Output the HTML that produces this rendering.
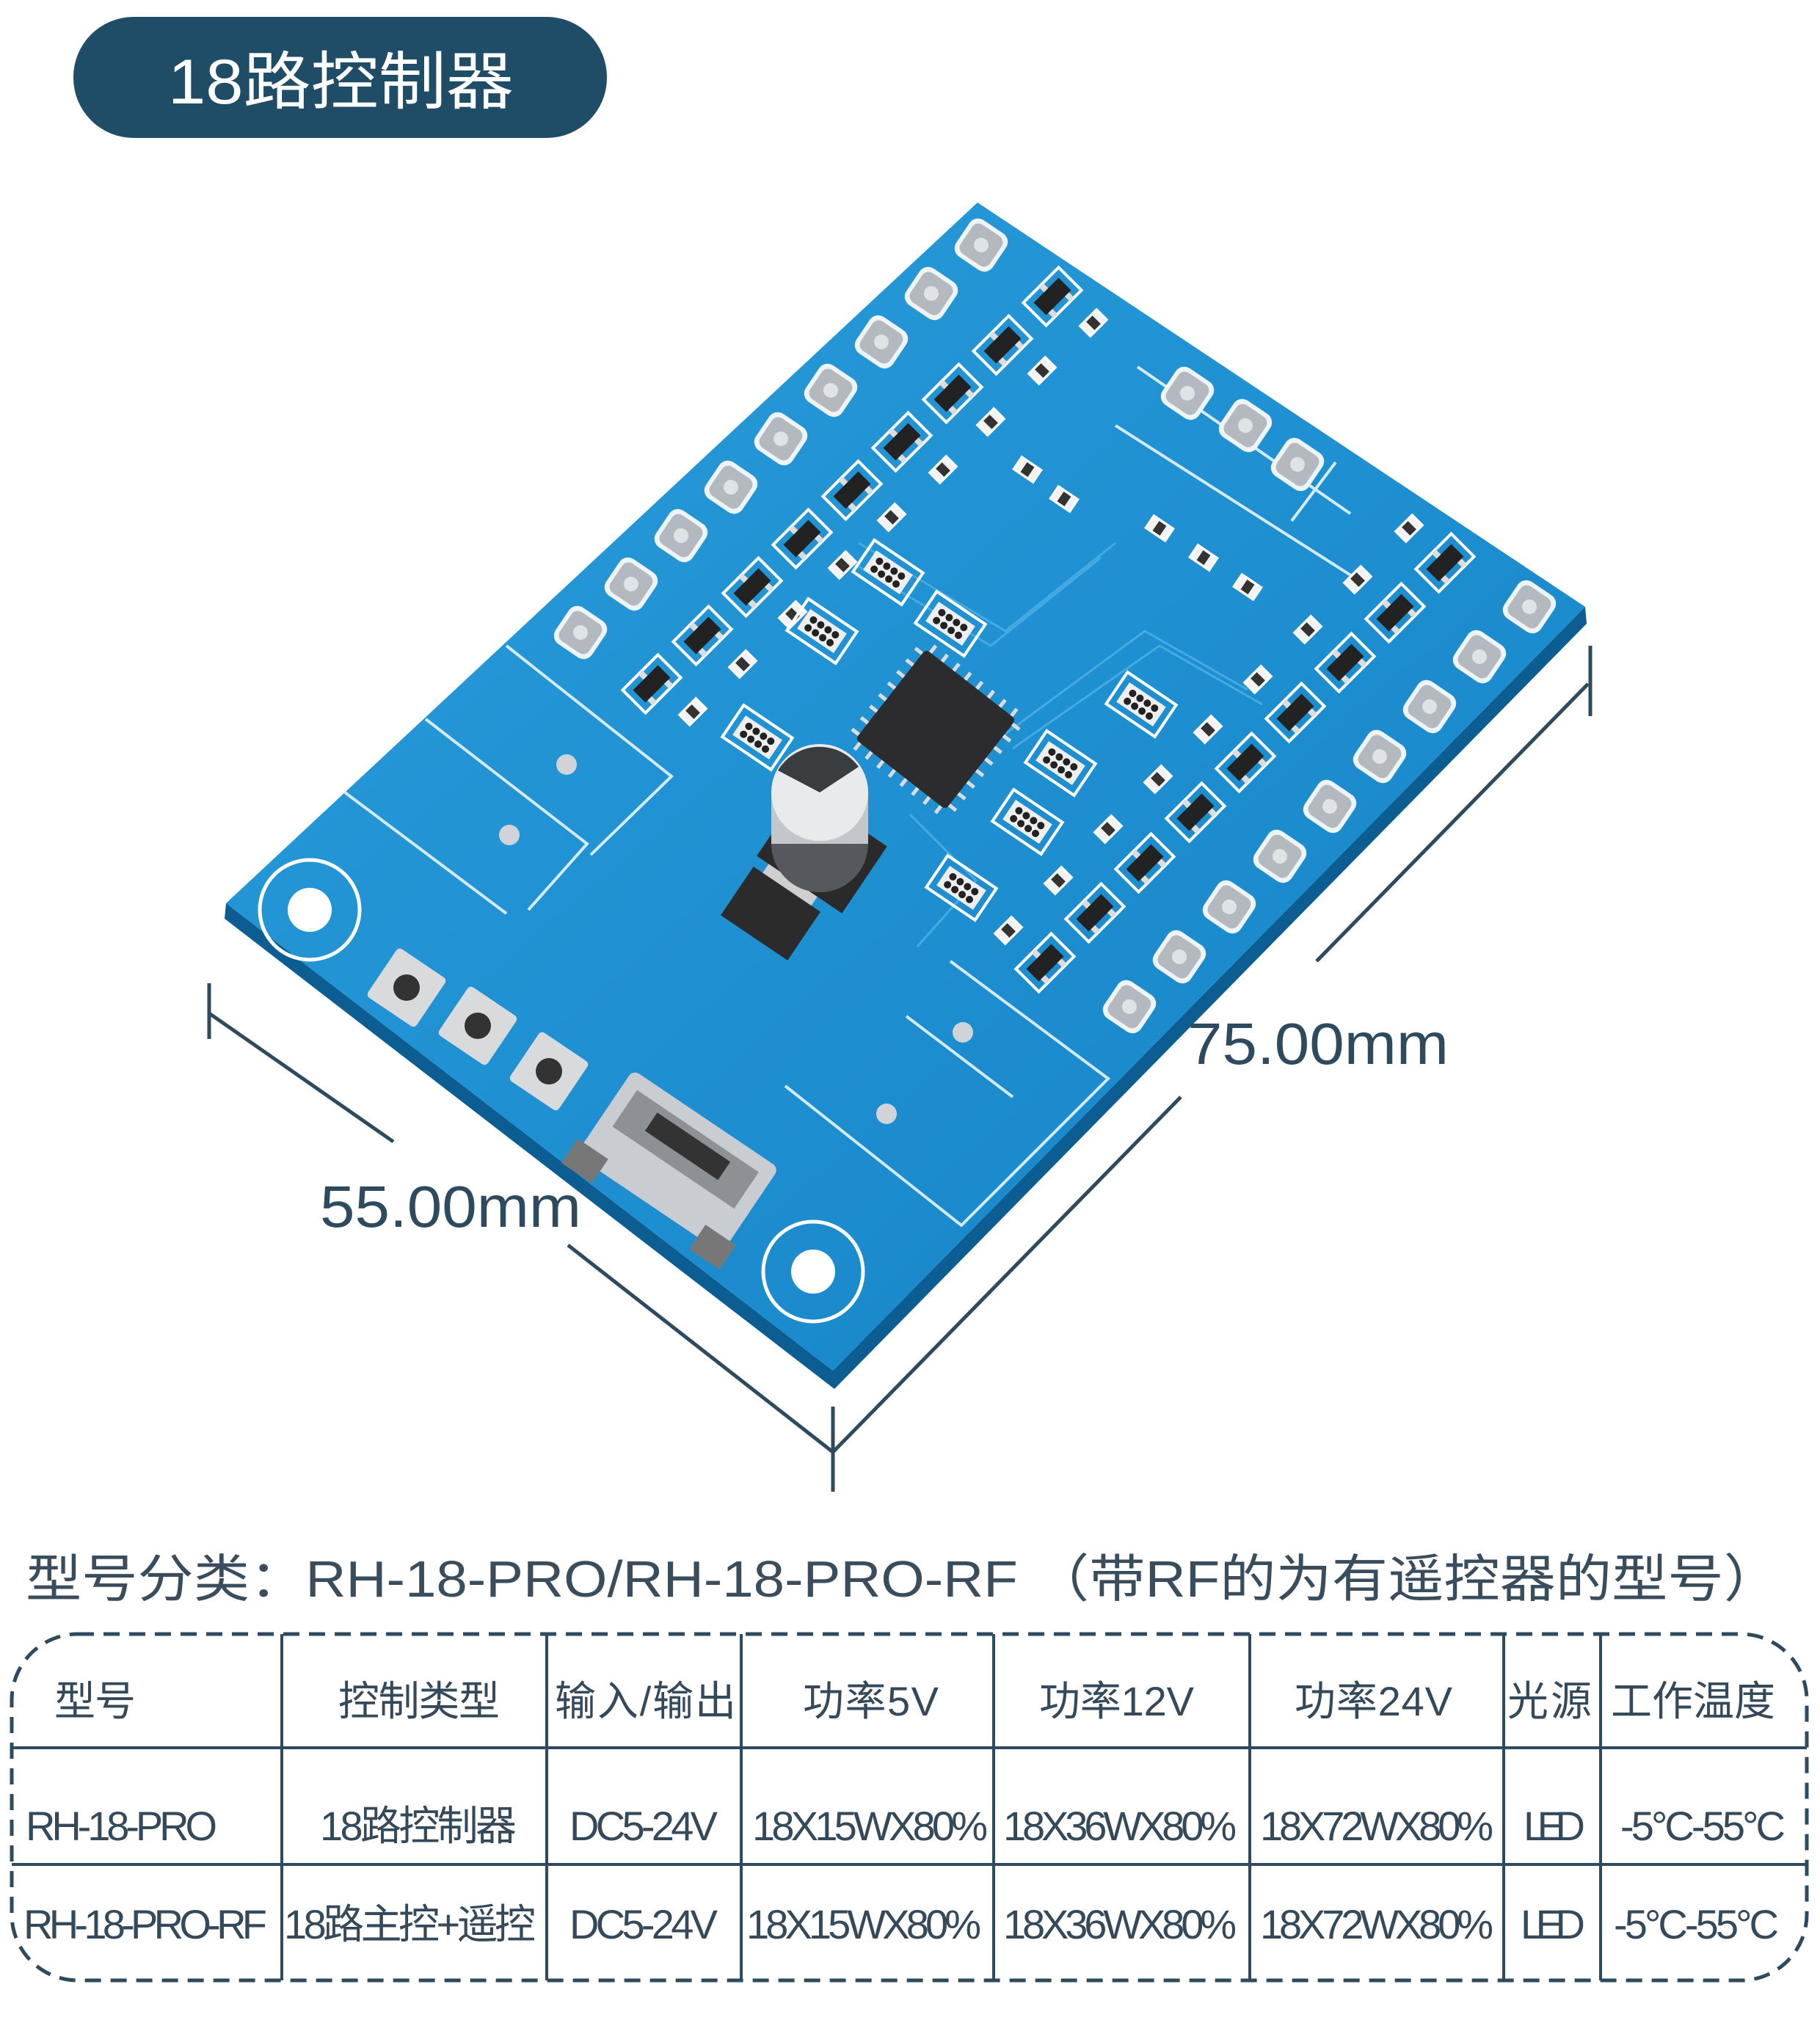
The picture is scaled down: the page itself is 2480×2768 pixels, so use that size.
<!DOCTYPE html>
<html><head><meta charset="utf-8"><style>
html,body{margin:0;padding:0;background:#fff;}
svg{display:block;}
</style></head><body>
<svg width="2480" height="2768" viewBox="0 0 2480 2768" xmlns="http://www.w3.org/2000/svg">
<defs>
<linearGradient id="bd" x1="0" y1="0" x2="1" y2="1">
<stop offset="0" stop-color="#2a9ddc"/><stop offset="1" stop-color="#1483c6"/>
</linearGradient>
<g id="pad"><rect x="-30" y="-30" width="60" height="60" rx="14" fill="#eef3f6"/><rect x="-24" y="-24" width="48" height="48" rx="10" fill="#b3b9bf"/><circle r="10" fill="#dfe3e6"/></g>
<g id="tr"><rect x="-34" y="-22" width="68" height="44" fill="none" stroke="#fff" stroke-width="4"/><rect x="-24" y="-12" width="48" height="24" fill="#222"/><rect x="-20" y="12" width="8" height="10" fill="#ddd"/><rect x="12" y="12" width="8" height="10" fill="#ddd"/><rect x="-4" y="-22" width="8" height="10" fill="#ddd"/></g>
<g id="res"><rect x="-16" y="-10" width="32" height="20" fill="#f2f2f2" stroke="#fff" stroke-width="3"/><rect x="-6" y="-8" width="12" height="16" fill="#333"/></g>
<g id="arr"><rect x="-40" y="-26" width="80" height="52" fill="none" stroke="#fff" stroke-width="4"/><rect x="-30" y="-16" width="60" height="32" fill="#eee"/><circle cx="-18" cy="-6" r="5" fill="#222"/><circle cx="-6" cy="-6" r="5" fill="#222"/><circle cx="6" cy="-6" r="5" fill="#222"/><circle cx="18" cy="-6" r="5" fill="#222"/><circle cx="-18" cy="7" r="5" fill="#222"/><circle cx="-6" cy="7" r="5" fill="#222"/><circle cx="6" cy="7" r="5" fill="#222"/><circle cx="18" cy="7" r="5" fill="#222"/></g>
</defs>

<!-- title pill -->
<rect x="100" y="23" width="727" height="165" rx="82" fill="#1f4d68"/>
<text x="229" y="141" font-family="Liberation Sans, Noto Sans CJK SC, sans-serif" font-size="86" fill="#fff" textLength="471" lengthAdjust="spacingAndGlyphs">18路控制器</text>

<!-- board edge & board -->
<polygon points="308,1231 1135,1868 2160,827 2162,850 1137,1893 306,1252" fill="#0c5d92"/>
<polygon points="1332,276 2160,827 1135,1868 308,1231" fill="url(#bd)"/>

<!-- silk lines -->
<g stroke="#e8f4fb" stroke-width="4" fill="none" opacity="0.9">
<polyline points="690,880 915,1058 805,1165"/>
<polyline points="580,980 800,1150 720,1240"/>
<polyline points="470,1080 690,1245"/>
<polyline points="1295,1310 1510,1470 1310,1670 1070,1480"/>
<polyline points="1235,1385 1380,1495"/>
<polyline points="1520,580 1850,790"/>
<polyline points="1550,500 1840,700"/>
<polyline points="1820,630 1760,710"/>
</g>
<g stroke="#4fb1e6" stroke-width="3" fill="none" opacity="0.8">
<polyline points="1150,760 1350,880 1500,760"/>
<polyline points="1170,740 1370,860 1520,740"/>
<polyline points="1370,1000 1560,860 1700,940"/>
<polyline points="1380,1020 1580,880 1720,960"/>
<polyline points="1240,1110 1330,1200 1250,1290"/>
</g>

<!-- mounting holes -->
<circle cx="422" cy="1240" r="68" fill="none" stroke="#fff" stroke-width="5"/>
<circle cx="422" cy="1240" r="30" fill="#fff"/>
<circle cx="1108" cy="1733" r="68" fill="none" stroke="#fff" stroke-width="5"/>
<circle cx="1108" cy="1733" r="30" fill="#fff"/>
<circle cx="772" cy="1042" r="14" fill="#d0d4d8"/>
<circle cx="694" cy="1138" r="14" fill="#d0d4d8"/>
<circle cx="1312" cy="1407" r="14" fill="#d0d4d8"/>
<circle cx="1208" cy="1518" r="14" fill="#d0d4d8"/>

<!-- pads 10-18 -->
<g transform="rotate(0)">
<use href="#pad" transform="translate(1337,334) rotate(34)"/>
<use href="#pad" transform="translate(1269,400) rotate(34)"/>
<use href="#pad" transform="translate(1201,466) rotate(34)"/>
<use href="#pad" transform="translate(1132,532) rotate(34)"/>
<use href="#pad" transform="translate(1064,598) rotate(34)"/>
<use href="#pad" transform="translate(996,664) rotate(34)"/>
<use href="#pad" transform="translate(928,730) rotate(34)"/>
<use href="#pad" transform="translate(860,796) rotate(34)"/>
<use href="#pad" transform="translate(791,862) rotate(34)"/>
<!-- pads 1-9 -->
<use href="#pad" transform="translate(2084,827) rotate(34)"/>
<use href="#pad" transform="translate(2016,895) rotate(34)"/>
<use href="#pad" transform="translate(1948,963) rotate(34)"/>
<use href="#pad" transform="translate(1880,1031) rotate(34)"/>
<use href="#pad" transform="translate(1812,1099) rotate(34)"/>
<use href="#pad" transform="translate(1744,1167) rotate(34)"/>
<use href="#pad" transform="translate(1675,1236) rotate(34)"/>
<use href="#pad" transform="translate(1607,1304) rotate(34)"/>
<use href="#pad" transform="translate(1539,1372) rotate(34)"/>
<!-- A B GND -->
<use href="#pad" transform="translate(1618,536) rotate(34)"/>
<use href="#pad" transform="translate(1697,580) rotate(34)"/>
<use href="#pad" transform="translate(1768,633) rotate(34)"/>
</g>

<!-- transistors row near 10-18 -->
<g>
<use href="#tr" transform="translate(1434,404) rotate(-45)"/>
<use href="#tr" transform="translate(1366,470) rotate(-45)"/>
<use href="#tr" transform="translate(1298,536) rotate(-45)"/>
<use href="#tr" transform="translate(1229,602) rotate(-45)"/>
<use href="#tr" transform="translate(1161,668) rotate(-45)"/>
<use href="#tr" transform="translate(1093,734) rotate(-45)"/>
<use href="#tr" transform="translate(1025,800) rotate(-45)"/>
<use href="#tr" transform="translate(957,866) rotate(-45)"/>
<use href="#tr" transform="translate(888,932) rotate(-45)"/>
<use href="#tr" transform="translate(1969,767) rotate(-45)"/>
<use href="#tr" transform="translate(1901,835) rotate(-45)"/>
<use href="#tr" transform="translate(1833,903) rotate(-45)"/>
<use href="#tr" transform="translate(1765,971) rotate(-45)"/>
<use href="#tr" transform="translate(1697,1039) rotate(-45)"/>
<use href="#tr" transform="translate(1629,1107) rotate(-45)"/>
<use href="#tr" transform="translate(1560,1176) rotate(-45)"/>
<use href="#tr" transform="translate(1492,1244) rotate(-45)"/>
<use href="#tr" transform="translate(1424,1312) rotate(-45)"/>
</g>
<g>
<use href="#res" transform="translate(1490,440) rotate(-45)"/>
<use href="#res" transform="translate(1420,505) rotate(-45)"/>
<use href="#res" transform="translate(1350,575) rotate(-45)"/>
<use href="#res" transform="translate(1285,640) rotate(-45)"/>
<use href="#res" transform="translate(1215,705) rotate(-45)"/>
<use href="#res" transform="translate(1148,770) rotate(-45)"/>
<use href="#res" transform="translate(1080,838) rotate(-45)"/>
<use href="#res" transform="translate(1012,905) rotate(-45)"/>
<use href="#res" transform="translate(944,970) rotate(-45)"/>
<use href="#res" transform="translate(1920,720) rotate(-45)"/>
<use href="#res" transform="translate(1850,790) rotate(-45)"/>
<use href="#res" transform="translate(1782,858) rotate(-45)"/>
<use href="#res" transform="translate(1714,926) rotate(-45)"/>
<use href="#res" transform="translate(1646,994) rotate(-45)"/>
<use href="#res" transform="translate(1578,1062) rotate(-45)"/>
<use href="#res" transform="translate(1510,1130) rotate(-45)"/>
<use href="#res" transform="translate(1442,1200) rotate(-45)"/>
<use href="#res" transform="translate(1374,1268) rotate(-45)"/>
<use href="#res" transform="translate(1400,640) rotate(34)"/>
<use href="#res" transform="translate(1450,680) rotate(34)"/>
<use href="#res" transform="translate(1580,720) rotate(34)"/>
<use href="#res" transform="translate(1640,760) rotate(34)"/>
<use href="#res" transform="translate(1700,800) rotate(34)"/>
</g>
<!-- resistor arrays -->
<use href="#arr" transform="translate(1032,1005) rotate(34)"/>
<use href="#arr" transform="translate(1210,780) rotate(34)"/>
<use href="#arr" transform="translate(1120,860) rotate(34)"/>
<use href="#arr" transform="translate(1445,1040) rotate(34)"/>
<use href="#arr" transform="translate(1400,1120) rotate(34)"/>
<use href="#arr" transform="translate(1310,1210) rotate(34)"/>
<use href="#arr" transform="translate(1555,960) rotate(34)"/>
<use href="#arr" transform="translate(1295,850) rotate(34)"/>

<!-- chip -->
<g transform="translate(1275,994) rotate(38)">
<g stroke="#dcdcdc" stroke-width="5">
<line x1="-70" y1="-90" x2="-70" y2="90"/><line x1="-50" y1="-90" x2="-50" y2="90"/><line x1="-30" y1="-90" x2="-30" y2="90"/><line x1="-10" y1="-90" x2="-10" y2="90"/><line x1="10" y1="-90" x2="10" y2="90"/><line x1="30" y1="-90" x2="30" y2="90"/><line x1="50" y1="-90" x2="50" y2="90"/><line x1="70" y1="-90" x2="70" y2="90"/>
<line y1="-70" x1="-90" y2="-70" x2="90"/><line y1="-50" x1="-90" y2="-50" x2="90"/><line y1="-30" x1="-90" y2="-30" x2="90"/><line y1="-10" x1="-90" y2="-10" x2="90"/><line y1="10" x1="-90" y2="10" x2="90"/><line y1="30" x1="-90" y2="30" x2="90"/><line y1="50" x1="-90" y2="50" x2="90"/><line y1="70" x1="-90" y2="70" x2="90"/>
</g>
<rect x="-78" y="-78" width="156" height="156" rx="6" fill="#2c2c2e"/>
</g>

<!-- regulator -->
<g transform="translate(1050,1245) rotate(34)">
<rect x="-55" y="-40" width="110" height="80" fill="#2b2b2b"/>
<rect x="-40" y="-62" width="80" height="22" fill="#cfcfcf"/>
</g>
<rect x="1050" y="1105" width="140" height="110" fill="#2a2a2a" transform="rotate(34 1120 1160)"/>
<!-- capacitor -->
<circle cx="1117" cy="1150" r="66" fill="#55595e"/>
<rect x="1051" y="1080" width="132" height="70" fill="#c4c7ca"/>
<circle cx="1117" cy="1080" r="66" fill="#e9eaeb"/>
<path d="M1060,1050 A66,66 0 0,1 1170,1045 L1117,1080 Z" fill="#3a3d40"/>

<!-- buttons -->
<g>
<rect x="514" y="1306" width="80" height="80" rx="6" fill="#d8dadc" transform="rotate(34 554 1346)"/>
<circle cx="554" cy="1346" r="18" fill="#333"/>
<rect x="611" y="1358" width="80" height="80" rx="6" fill="#d8dadc" transform="rotate(34 651 1398)"/>
<circle cx="651" cy="1398" r="18" fill="#333"/>
<rect x="708" y="1420" width="80" height="80" rx="6" fill="#d8dadc" transform="rotate(34 748 1460)"/>
<circle cx="748" cy="1460" r="18" fill="#333"/>
</g>
<!-- USB -->
<g transform="translate(923,1583) rotate(34)">
<rect x="-120" y="-70" width="240" height="140" rx="10" fill="#c9ccd0"/>
<rect x="-100" y="-50" width="200" height="60" fill="#8d9196"/>
<rect x="-60" y="-40" width="120" height="30" fill="#333"/>
<rect x="-130" y="50" width="50" height="40" fill="#777"/>
<rect x="80" y="50" width="50" height="40" fill="#777"/>
</g>

<!-- dimension lines -->
<g stroke="#2e4a5e" stroke-width="5" fill="none">
<line x1="2167" y1="880" x2="2167" y2="976"/>
<line x1="2164" y1="932" x2="1794" y2="1310"/>
<line x1="1609" y1="1495" x2="1135" y2="1979"/>
<line x1="1135" y1="1917" x2="1135" y2="2033"/>
<line x1="285" y1="1340" x2="285" y2="1416"/>
<line x1="285" y1="1381" x2="536" y2="1556"/>
<line x1="774" y1="1697" x2="1135" y2="1979"/>
</g>
<text x="1618" y="1450" font-family="Liberation Sans, sans-serif" font-size="80" fill="#2e4a5e" textLength="356" lengthAdjust="spacingAndGlyphs">75.00mm</text>
<text x="436" y="1672" font-family="Liberation Sans, sans-serif" font-size="80" fill="#2e4a5e" textLength="356" lengthAdjust="spacingAndGlyphs">55.00mm</text>

<!-- model heading -->
<text x="35" y="2176" font-family="Liberation Sans, Noto Sans CJK SC, sans-serif" font-size="70" fill="#3a4d5c" textLength="2390" lengthAdjust="spacingAndGlyphs">型号分类：RH-18-PRO/RH-18-PRO-RF （带RF的为有遥控器的型号）</text>

<!-- table -->
<rect x="16" y="2227" width="2446" height="472" rx="90" fill="none" stroke="#2e4a5e" stroke-width="5" stroke-dasharray="22 13"/>
<g stroke="#2e4a5e" stroke-width="4">
<line x1="16" y1="2382" x2="2462" y2="2382"/>
<line x1="16" y1="2541" x2="2462" y2="2541"/>
<line x1="384" y1="2227" x2="384" y2="2699"/>
<line x1="745" y1="2227" x2="745" y2="2699"/>
<line x1="1010" y1="2227" x2="1010" y2="2699"/>
<line x1="1354" y1="2227" x2="1354" y2="2699"/>
<line x1="1703" y1="2227" x2="1703" y2="2699"/>
<line x1="2049" y1="2227" x2="2049" y2="2699"/>
<line x1="2181" y1="2227" x2="2181" y2="2699"/>
</g>
<g font-family="Liberation Sans, Noto Sans CJK SC, sans-serif" font-size="56" fill="#34495a" lengthAdjust="spacingAndGlyphs">
<text x="74" y="2338" textLength="111">型号</text>
<text x="461" y="2338" textLength="220">控制类型</text>
<text x="756" y="2338" textLength="247">输入/输出</text>
<text x="1094" y="2338" textLength="185">功率5V</text>
<text x="1416" y="2338" textLength="211">功率12V</text>
<text x="1764" y="2338" textLength="215">功率24V</text>
<text x="2054" y="2338" textLength="115">光源</text>
<text x="2195" y="2338" textLength="224">工作温度</text>

<text x="35" y="2508" textLength="261">RH-18-PRO</text>
<text x="436" y="2508" textLength="268">18路控制器</text>
<text x="776" y="2508" textLength="202">DC5-24V</text>
<text x="1025" y="2508" textLength="321">18X15WX80%</text>
<text x="1367" y="2508" textLength="318">18X36WX80%</text>
<text x="1717" y="2508" textLength="318">18X72WX80%</text>
<text x="2076" y="2508" textLength="84">LED</text>
<text x="2208" y="2508" textLength="225">-5°C-55°C</text>

<text x="32" y="2642" textLength="332">RH-18-PRO-RF</text>
<text x="387" y="2642" textLength="343">18路主控+遥控</text>
<text x="776" y="2642" textLength="202">DC5-24V</text>
<text x="1017" y="2642" textLength="320">18X15WX80%</text>
<text x="1367" y="2642" textLength="318">18X36WX80%</text>
<text x="1717" y="2642" textLength="318">18X72WX80%</text>
<text x="2072" y="2642" textLength="88">LED</text>
<text x="2199" y="2642" textLength="225">-5°C-55°C</text>
</g>
</svg>
</body></html>
